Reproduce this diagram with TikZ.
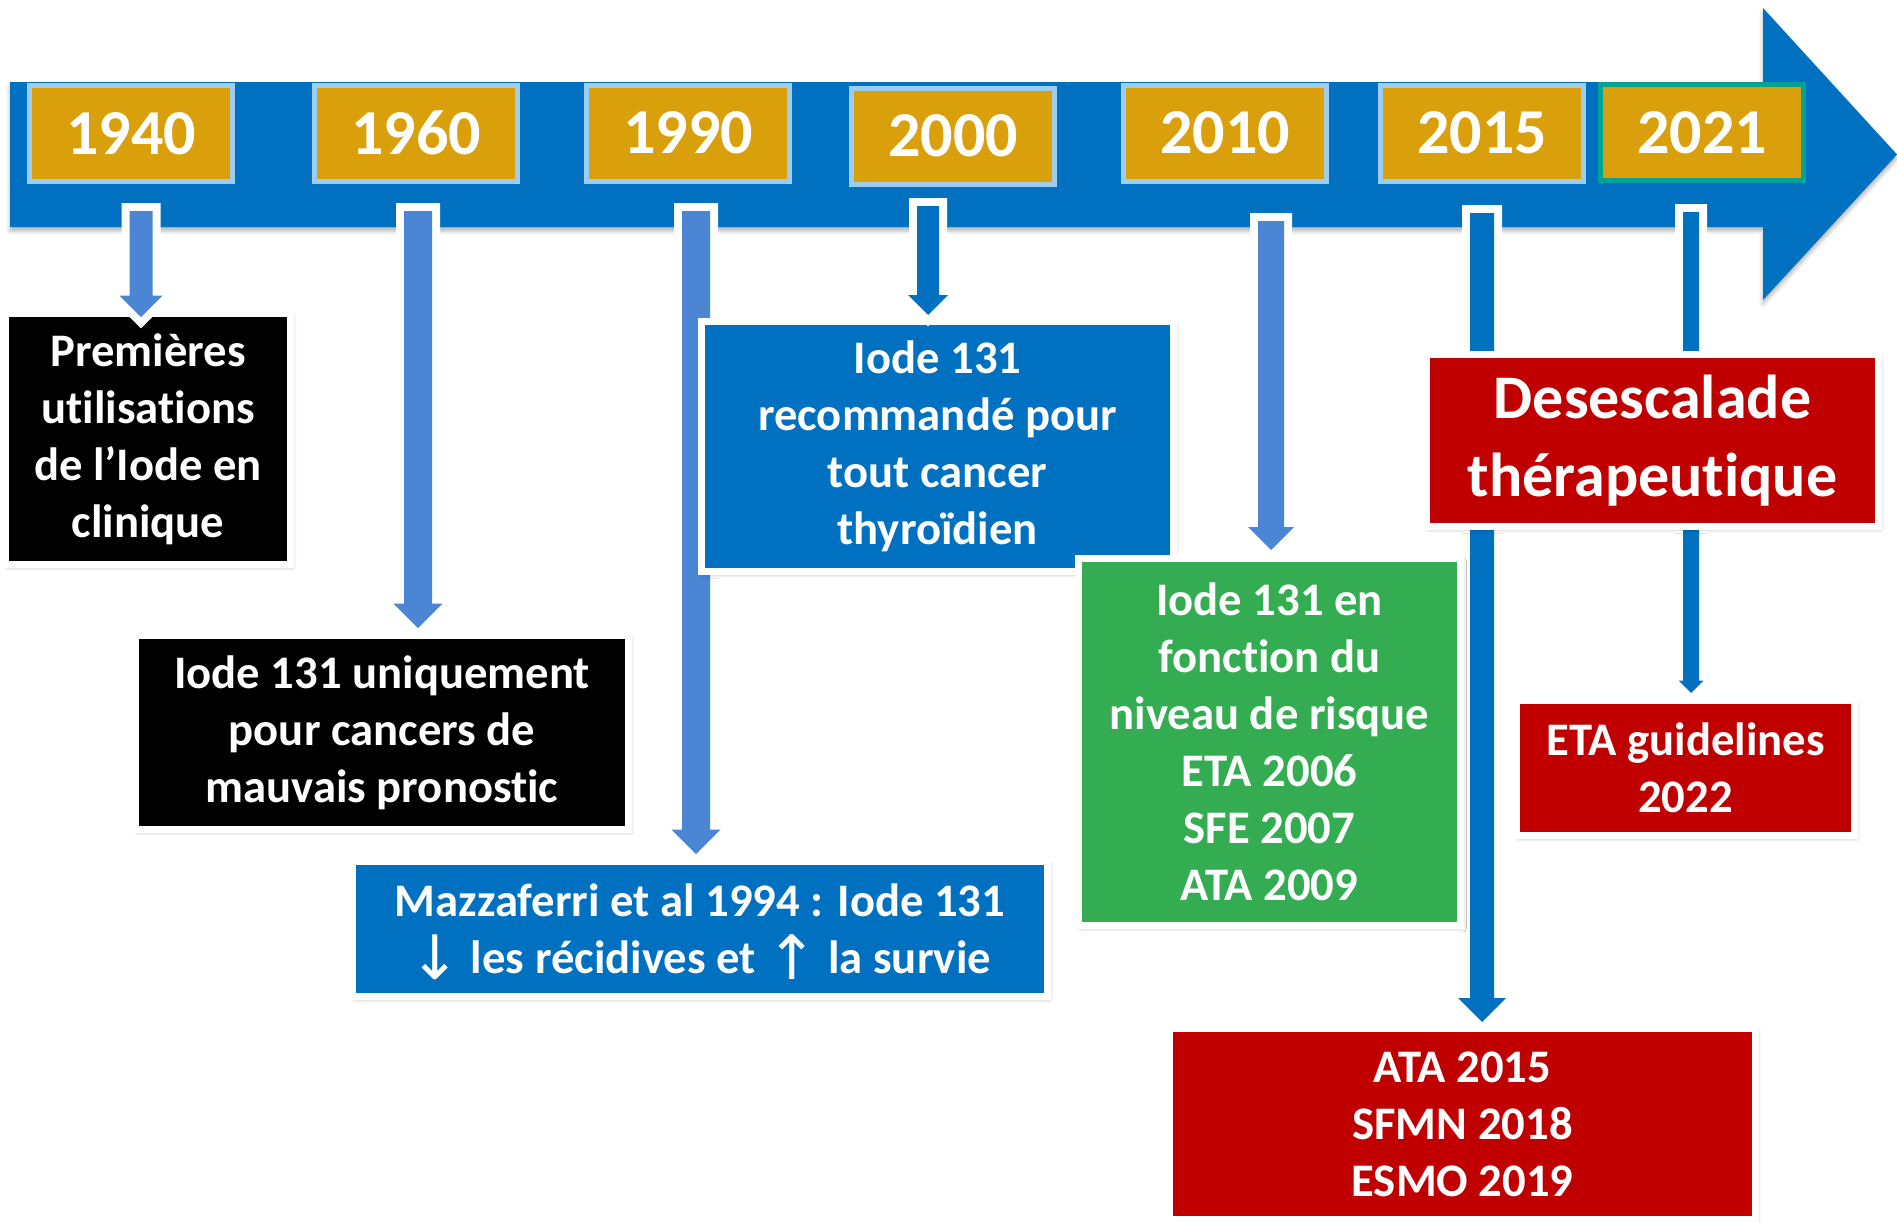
\documentclass[tikz,border=0pt]{standalone}
\usepackage{fontspec}
\setmainfont{Carlito}[Ligatures=NoCommon]
\newfontfamily\arrfont{DejaVu Sans}
\usetikzlibrary{calc,shadows.blur}
\definecolor{tlblue}{RGB}{0,112,192}
\definecolor{ltarrow}{RGB}{74,134,212}
\definecolor{gold}{RGB}{218,160,12}
\definecolor{yrborder}{RGB}{157,205,240}
\definecolor{teal21}{RGB}{0,163,150}
\definecolor{grn}{RGB}{52,173,82}
\definecolor{rd}{RGB}{192,0,0}
\tikzset{
  yearbox/.style={fill=gold, draw=yrborder, line width=3.75pt, minimum width=152.25pt,
    minimum height=72pt, inner sep=0pt, text=white,
    font=\bfseries\fontsize{48}{58}\selectfont},
  evbox/.style={draw=white, line width=5.25pt, inner sep=0pt, text=white, align=center,
    font=\bfseries\fontsize{35}{42.75}\selectfont,
    blur shadow={shadow xshift=1.5pt, shadow yshift=-2pt, shadow blur radius=3pt, shadow opacity=30}},
}
\newcommand\bigarr[1]{\smash{\raisebox{-0.12em}{\arrfont\mdseries\fontsize{46}{42.75}\selectfont #1}}}
% #1 start, #2 tip, #3 shaft half width (px), #4 head half width (px), #5 colour
\newcommand\fatarrow[5]{%
  \fill[#5, preaction={draw=white, line width=12pt, line join=miter}]
    let \p1=(#1), \p2=(#2) in
    (\x1-#3*0.75pt,\y1) -- (\x1+#3*0.75pt,\y1) -- (\x1+#3*0.75pt,\y2+#4*0.75pt)
    -- (\x1+#4*0.75pt,\y2+#4*0.75pt) -- (\x1,\y2) -- (\x1-#4*0.75pt,\y2+#4*0.75pt)
    -- (\x1-#3*0.75pt,\y2+#4*0.75pt) -- cycle;}
\begin{document}
\begin{tikzpicture}[x=0.75pt,y=-0.75pt]
\useasboundingbox (0,0) rectangle (1897,1222);

% main timeline arrow
\fill[tlblue, blur shadow={shadow xshift=0pt, shadow yshift=-3pt, shadow blur radius=3pt, shadow opacity=30}]
  (10,82) -- (1763,82) -- (1763,8) -- (1897,154.5) -- (1763,300) -- (1763,227) -- (10,227) -- cycle;

% years
\node[yearbox] (y1940) at (131,133.5) {1940};
\node[yearbox] (y1960) at (416,133) {1960};
\node[yearbox] (y1990) at (688,133) {1990};
\node[yearbox] (y2000) at (953,136) {2000};
\node[yearbox] (y2010) at (1225,133) {2010};
\node[yearbox] (y2015) at (1482,133) {2015};
\node[yearbox, draw=teal21] (y2021) at (1702,132.5) {2021};

% arrow start and tip points
\coordinate (s1940) at (141,211);   \coordinate (t1940) at (141,317);
\coordinate (s1960) at (418,211);   \coordinate (t1960) at (418,628);
\coordinate (s1990) at (696,211);   \coordinate (t1990) at (696,854);
\coordinate (s2000) at (928,206);   \coordinate (t2000) at (928,315);
\coordinate (s2010) at (1271,221);  \coordinate (t2010) at (1271,550);
\coordinate (s2015) at (1482,213);  \coordinate (t2015) at (1482,1022);
\coordinate (s2021) at (1691,212);  \coordinate (t2021) at (1691,693);

% arrows that pass behind boxes
\fatarrow{s1990}{t1990}{14}{24.5}{ltarrow}
\fatarrow{s2015}{t2015}{12}{24}{tlblue}
\fatarrow{s2021}{t2021}{8}{12.5}{tlblue}

% event boxes
\node[evbox, fill=black, minimum width=213.75pt, minimum height=188.25pt] (b1) at (148,439)
  {Premières\\utilisations\\de l’Iode en\\clinique};
\node[evbox, fill=black, minimum width=369.75pt, minimum height=145.5pt] (b2) at (382,732.5)
  {Iode 131 uniquement\\pour cancers de\\mauvais pronostic};
\node[evbox, fill=tlblue, minimum width=521.25pt, minimum height=101.25pt] (b3) at (700,929)
  {Mazzaferri et al 1994 : Iode 131\\\bigarr{↓} les récidives et \bigarr{↑} la survie};
\node[evbox, fill=tlblue, minimum width=354pt, minimum height=187.5pt] (b4) at (937.5,446.5)
  {Iode 131\\recommandé pour\\tout cancer\\thyroïdien};
\node[evbox, fill=grn, minimum width=286.5pt, minimum height=275.25pt] (b5) at (1269.5,742)
  {Iode 131 en\\fonction du\\niveau de risque\\ETA 2006\\SFE 2007\\ATA 2009};
\node[evbox, fill=rd, minimum width=339pt, minimum height=129pt,
  font=\bfseries\fontsize{46.5}{58.5}\selectfont] (b6) at (1652.5,440.5)
  {Desescalade\\thérapeutique};
\node[evbox, fill=rd, minimum width=253.5pt, minimum height=101.25pt] (b7) at (1685.5,768)
  {ETA guidelines\\2022};
\node[evbox, fill=rd, minimum width=439.5pt, minimum height=143.25pt] (b8) at (1462.5,1124)
  {ATA 2015\\SFMN 2018\\ESMO 2019};

% arrows drawn on top
\fatarrow{s1940}{t1940}{11.5}{21.5}{ltarrow}
\fatarrow{s1960}{t1960}{14}{24.5}{ltarrow}
\fatarrow{s2000}{t2000}{11}{20}{tlblue}
\fatarrow{s2010}{t2010}{13}{23}{ltarrow}
\end{tikzpicture}
\end{document}
